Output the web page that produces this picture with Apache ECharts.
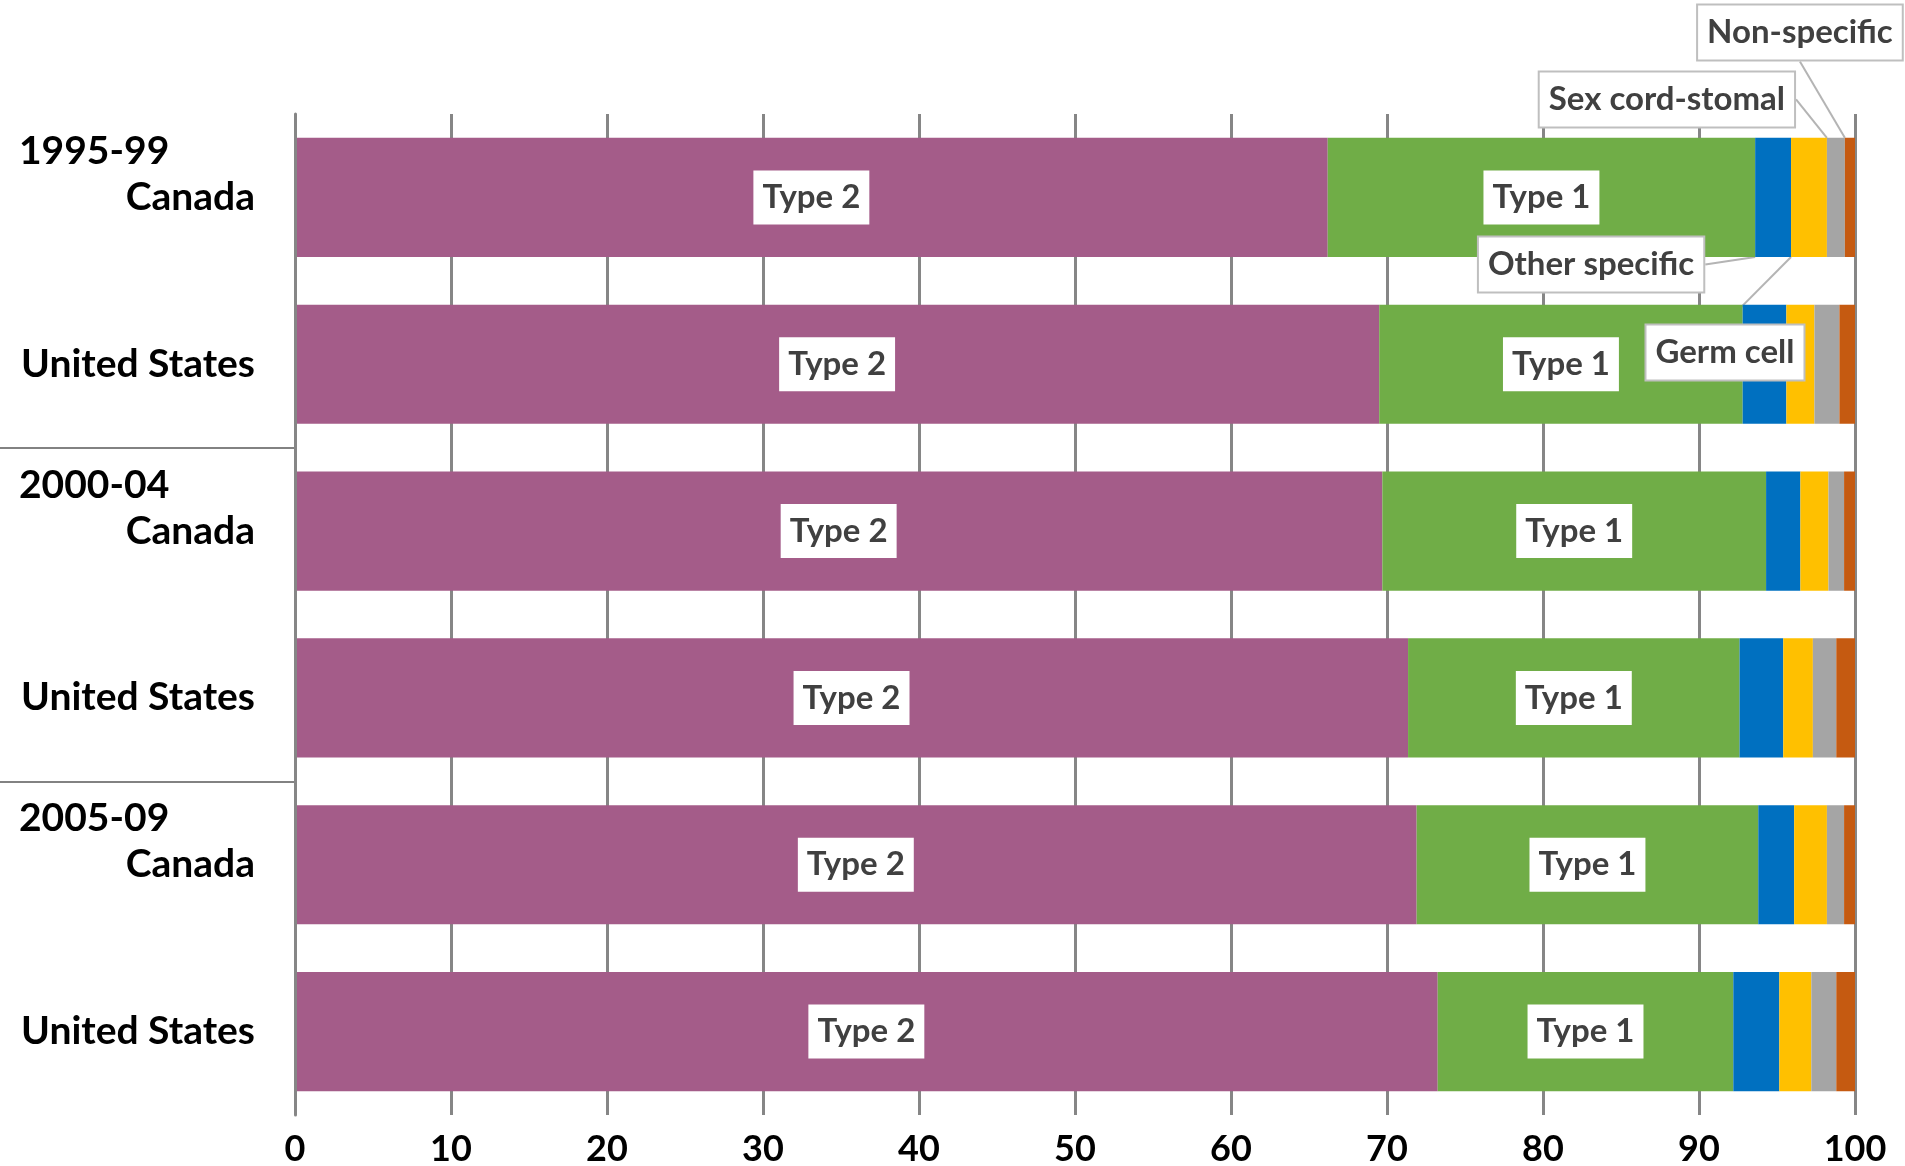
<!DOCTYPE html>
<html><head><meta charset="utf-8">
<script src="https://cdn.jsdelivr.net/npm/echarts@6/dist/echarts.min.js"></script>
<style>html,body{margin:0;padding:0;background:#fff}#c{width:1905px;height:1166px}</style>
</head><body><div id="c"></div>
<script>
const categories = ['Canada', 'United States', 'Canada', 'United States', 'Canada', 'United States'];
const periods = ['1995-99', '', '2000-04', '', '2005-09', ''];
const seriesNames = ['Type 2', 'Type 1', 'Other specific', 'Germ cell', 'Sex cord-stomal', 'Non-specific'];
const type2 = [66.2, 69.5, 69.7, 71.35, 71.9, 73.25];
const type1 = [27.4, 23.3, 24.6, 21.25, 21.9, 18.95];
const otherSpecific = [2.3, 2.8, 2.2, 2.8, 2.3, 2.95];
const germCell = [2.3, 1.8, 1.8, 1.9, 2.1, 2.05];
const sexCord = [1.15, 1.6, 1.0, 1.5, 1.1, 1.6];
const nonSpecific = [0.65, 1.0, 0.7, 1.2, 0.7, 1.2];
const groupBoundaries = [2, 4];

const values = [type2, type1, otherSpecific, germCell, sexCord, nonSpecific];
const colors = ['#A45C89', '#70AD47', '#0070C0', '#FFC000', '#A5A5A5', '#C55A11'];
// callout offsets (label moved from its segment) for the first row
const calloutOffsets = [null, null, [-182, 67], [-84, 155], [-169, -98], [-50, -165]];

const FONT = 'Lato';
const labelBase = {
  fontFamily: FONT, fontWeight: 'bold', fontSize: 33, color: '#404040',
  backgroundColor: '#fff', padding: [10, 9, 10, 9], lineHeight: 34
};

const series = values.map((vals, si) => {
  const callout = calloutOffsets[si];
  const s = {
    name: seriesNames[si], type: 'bar', stack: 'total', yAxisIndex: 0,
    barCategoryGap: '28.6%',
    itemStyle: { color: colors[si] },
    emphasis: { disabled: true }
  };
  if (!callout) {
    s.data = vals;
    s.label = Object.assign({ show: true, position: 'inside', formatter: seriesNames[si] }, labelBase);
  } else {
    s.data = vals.map((v, i) => i === 0 ? {
      value: v,
      label: Object.assign({ show: true, position: 'inside', formatter: seriesNames[si],
        borderColor: '#BFBFBF', borderWidth: 2 }, labelBase)
    } : v);
    s.label = { show: false };
    s.labelLine = { show: true, lineStyle: { color: '#B4B4B4', width: 2 } };
    s.labelLayout = p => p.dataIndex === 0 ? { dx: callout[0], dy: callout[1] } : {};
  }
  return s;
});

const chart = echarts.init(document.getElementById('c'), null, { renderer: 'canvas' });
chart.setOption({
  backgroundColor: '#fff',
  animation: false,
  grid: { left: 295, right: 50, top: 114, bottom: 51, containLabel: false, outerBoundsMode: 'none' },
  xAxis: {
    type: 'value', min: 0, max: 100, interval: 10,
    axisLine: { show: false }, axisTick: { show: false },
    splitLine: { show: true, lineStyle: { color: '#868686', width: 3 } },
    axisLabel: { margin: 16, fontFamily: FONT, fontWeight: 'bold', fontSize: 36, color: '#000' }
  },
  yAxis: [
    {
      type: 'category', data: categories, inverse: true, z: 3, position: 'left',
      axisLine: { show: true, lineStyle: { color: '#868686', width: 3 } },
      axisTick: { show: false },
      axisLabel: { margin: 40, fontFamily: FONT, fontWeight: 'bold', fontSize: 39, color: '#000' }
    },
    {
      type: 'category', data: periods, inverse: true, position: 'left', offset: 0,
      axisLine: { show: false }, axisTick: { show: false },
      axisLabel: {
        margin: 276, align: 'left', interval: 0,
        fontFamily: FONT, fontWeight: 'bold', fontSize: 39, color: '#000', lineHeight: 46,
        formatter: v => v ? v + '\n \n ' : ''
      }
    },
    {
      type: 'value', min: 0, max: categories.length, inverse: true, position: 'left', offset: 0,
      axisLine: { show: false }, splitLine: { show: false },
      axisLabel: { show: false },
      axisTick: { show: true, customValues: groupBoundaries, length: 295,
        lineStyle: { color: '#595959', width: 1.5 } }
    }
  ],
  series: series
});
</script>
</body></html>
